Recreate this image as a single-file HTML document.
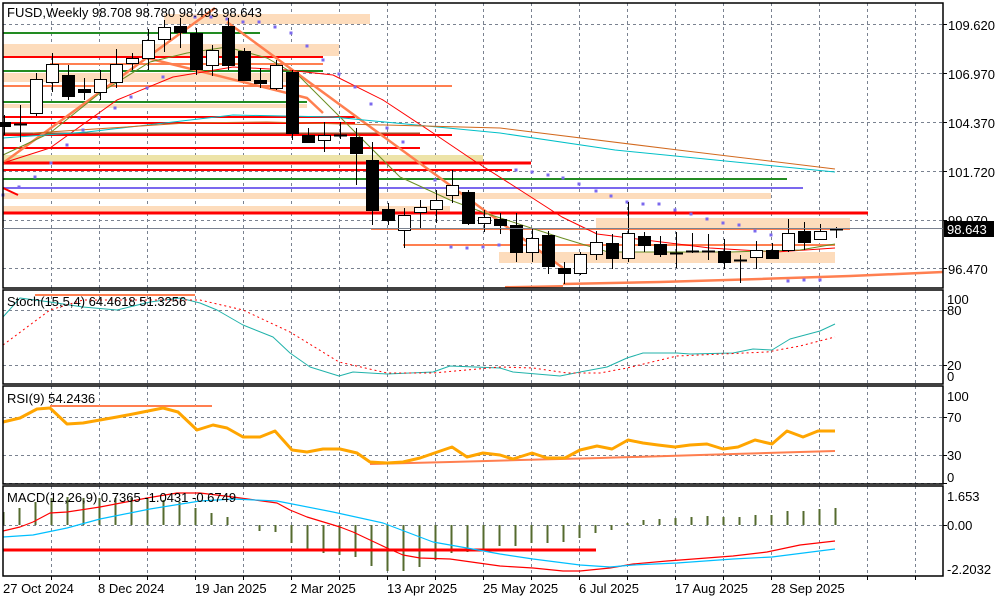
<!DOCTYPE html>
<html><head><meta charset="utf-8"><style>
html,body{margin:0;padding:0;background:#fff;width:1000px;height:600px;overflow:hidden}
svg{display:block}
text{font-family:"Liberation Sans",sans-serif;font-size:13px;fill:#000}
</style></head><body>
<svg id="s" width="1000" height="600" viewBox="0 0 1000 600" xmlns="http://www.w3.org/2000/svg">
<rect width="1000" height="600" fill="#fff"/>
<g id="grid" stroke="#7a8290" stroke-width="1" stroke-dasharray="3,3" fill="none"></g>
<g id="bands"></g>
<g id="lines" fill="none"></g>
<g id="cand"></g>
<g id="ind" fill="none"></g>
<g fill="none" stroke="#000" stroke-width="1.5">
<rect x="3" y="3" width="940" height="285"/>
<rect x="3" y="290" width="940" height="94"/>
<rect x="3" y="386" width="940" height="98"/>
<rect x="3" y="486" width="940" height="90"/>
</g>
<line x1="3" y1="228.5" x2="943" y2="228.5" stroke="#7a8290" stroke-width="1"/>
<rect x="944" y="221" width="50" height="16" fill="#000"/>
<text x="947" y="234" style="fill:#fff">98.643</text>
<g id="ticks" stroke="#000" stroke-width="1"></g>
<text x="7" y="17">FUSD,Weekly  98.708 98.780 98.493 98.643</text>
<text x="948" y="30">109.620</text>
<text x="948" y="79">106.970</text>
<text x="948" y="128">104.370</text>
<text x="948" y="177">101.720</text>
<text x="948" y="225">99.070</text>
<text x="948" y="274">96.470</text>
<text x="7" y="306">Stoch(15,5,4) 64.4618 51.3256</text>
<text x="947" y="304">100</text>
<text x="947" y="315">80</text>
<text x="947" y="370">20</text>
<text x="947" y="381">0</text>
<text x="7" y="403">RSI(9) 54.2436</text>
<text x="947" y="401">100</text>
<text x="947" y="422">70</text>
<text x="947" y="460">30</text>
<text x="947" y="482">0</text>
<text x="7" y="502">MACD(12,26,9) 0.7365 -1.0431 -0.6749</text>
<text x="947" y="501">1.653</text>
<text x="947" y="530">0.00</text>
<text x="947" y="574">-2.2032</text>
<text x="3" y="593">27 Oct 2024</text>
<text x="98" y="593">8 Dec 2024</text>
<text x="195" y="593">19 Jan 2025</text>
<text x="290" y="593">2 Mar 2025</text>
<text x="387" y="593">13 Apr 2025</text>
<text x="483" y="593">25 May 2025</text>
<text x="579" y="593">6 Jul 2025</text>
<text x="675" y="593">17 Aug 2025</text>
<text x="771" y="593">28 Sep 2025</text>
</svg>
<script>
var NS="http://www.w3.org/2000/svg";
function el(p,t,a){var e=document.createElementNS(NS,t);for(var k in a)e.setAttribute(k,a[k]);document.getElementById(p).appendChild(e);return e;}
for(var x=51;x<943;x+=48){[[3,288],[290,384],[386,484],[486,576]].forEach(function(r){el("grid","line",{x1:x+.5,y1:r[0],x2:x+.5,y2:r[1]});});
 el("ticks","line",{x1:x+.5,y1:576,x2:x+.5,y2:580});}
[24.5,73.5,122.5,171.5,220.5,268.5,310.5,365.5,417.5,455.5,483.5,525.5].forEach(function(y){el("grid","line",{x1:3,y1:y,x2:943,y2:y});el("ticks","line",{x1:943,y1:y,x2:947,y2:y});});
var B=[[164,14,206,10,"#fddcbc"],[3,44,336,12,"#fddcbc"],[3,73,297,9,"#fddcbc"],[3,104,304,4,"#fddcbc"],[3,155,480,7,"#ede3a8"],[3,193,768,6,"#fddcbc"],[3,206,447,6,"#fddcbc"],[596,218,254,11,"#fddcbc"],[499,252,336,11,"#fddcbc"]];
B.forEach(function(b){el("bands","rect",{x:b[0],y:b[1],width:b[2],height:b[3],fill:b[4]});});
var H=[[3,260,33,"#228b22",2],[3,323,57,"#ff0000",2],[50,323,64,"#ff7f50",2],[3,323,71,"#228b22",2],[3,452,86,"#ff7f50",2],[3,307,102,"#228b22",2],[3,355,117,"#ff0000",2],[3,355,123,"#ff0000",2],[3,420,134,"#a0522d",3],[3,452,135,"#ff0000",2],[3,420,148,"#ff0000",2],[3,531,163,"#ff0000",3],[3,512,170,"#ff0000",2],[3,787,179,"#228b22",2],[3,803,188,"#7b68ee",2],[3,868,213,"#ff0000",3],[371,850,229,"#ff7f50",2],[403,835,245,"#ff7f50",2]];
H.forEach(function(h){el("lines","line",{x1:h[0],y1:h[2],x2:h[1],y2:h[2],stroke:h[3],"stroke-width":h[4]});});
function pl(g,pts,c,w,extra){var a={points:pts,stroke:c,"stroke-width":w,fill:"none","stroke-linejoin":"round"};if(extra)for(var k in extra)a[k]=extra[k];return el(g,"polyline",a);}
pl("lines","563,284 660,282 760,279 850,276 943,272","#ff7f50",2.5);
pl("lines","505,287 563,286","#ff7f50",2);
pl("lines","3,163 215,8","#ff7f50",2.5);
pl("lines","227,22 563,268","#ff7f50",2.5);
pl("lines","147,58 307,98 323,113","#ff7f50",2.5);
pl("lines","3,188 18,195","#ff0000",2);
pl("lines","3,163 50,148 117,100 173,77 233,67 287,70 333,75 383,100 433,133 473,160 520,190 562,217 597,234 710,248 776,252 835,248","#ff0000",1);
pl("lines","3,155 50,133 100,93 150,62 187,53 227,47 267,58 300,77 350,127 400,177 450,200 485,213 562,238 608,252 730,252 800,250 835,244","#6b8e23",1);
pl("lines","3,138 87,132 233,115 333,117 500,133 615,150 835,172","#00c0c8",1);
pl("lines","33,133 187,123 267,122 500,128 678,150 835,169","#d2691e",1);
var D=[[3,195],[19,187],[35,177],[51,163],[67,145],[83,130],[99,118],[115,108],[131,97],[147,88],[163,77],[195,17],[211,17],[227,19],[243,22],[259,22],[275,27],[291,33],[307,46],[323,60],[339,74],[355,87],[371,104],[387,128],[403,142],[435,180],[451,247],[467,248],[483,247],[499,245],[516,170],[532,172],[548,175],[563,178],[579,184],[596,191],[611,196],[627,202],[643,204],[659,204],[675,210],[691,214],[707,219],[723,223],[739,225],[755,231],[771,235],[788,281],[804,280],[820,280]];
D.forEach(function(d){el("lines","rect",{x:d[0]-1.5,y:d[1]-1.5,width:3,height:3,fill:"#7b68ee"});});
var C=[[122,126,115,135],[124,124,105,142],[113,79,73,116],[82,64,53,92],[75,96,65,100],[89,92,78,100],[92,79,70,100],[82,64,49,88],[63,58,53,70],[58,40,29,70],[39,27,20,52],[26,32,18,48],[33,69,28,75],[65,50,45,76],[26,65,18,70],[51,80,48,80],[80,83,68,88],[88,65,60,90],[72,133,70,140],[135,142,128,142],[140,135,122,152],[135,136,122,139],[137,153,128,185],[160,210,142,225],[209,220,203,225],[230,215,208,248],[212,207,200,229],[209,200,190,223],[195,185,170,203],[192,223,190,225],[223,217,210,232],[219,225,213,234],[225,252,213,262],[252,238,228,262],[235,266,231,274],[268,273,262,284],[273,254,252,275],[254,242,231,260],[243,258,234,269],[258,233,202,262],[236,245,232,252],[244,254,236,257],[253,253,232,268],[251,251,233,253],[251,251,234,260],[251,262,239,269],[260,260,255,283],[257,250,241,269],[250,258,243,259],[250,233,219,252],[231,242,222,250],[239,231,224,240],[229,229,227,238]];
C.forEach(function(c,i){var x=4+16*i;el("cand","line",{x1:x+.5,y1:c[2],x2:x+.5,y2:c[3],stroke:"#000","stroke-width":1});
 var t=Math.min(c[0],c[1]),h=Math.max(1,Math.abs(c[1]-c[0]));
 if(h<=1){el("cand","line",{x1:x-6,y1:t+.5,x2:x+7,y2:t+.5,stroke:"#000","stroke-width":2});}
 else el("cand","rect",{x:x-5.5,y:t+.5,width:12,height:h,fill:c[1]<c[0]?"#fff":"#000",stroke:"#000","stroke-width":1});});
pl("ind","35,295 195,295","#ff7f50",2);
pl("ind","3,317 20,298 50,302 83,307 117,310 150,302 180,298 200,303 217,310 243,325 273,337 290,353 310,367 339,376 353,372 387,374 433,372 450,366 500,368 513,372 560,376 580,372 607,367 627,358 643,353 677,353 690,354 733,353 753,349 772,350 790,339 820,331 835,324","#20b2aa",1);
pl("ind","3,345 50,310 83,300 200,300 243,310 290,332 339,362 387,373 433,373 500,367 533,368 567,373 600,373 627,368 677,356 767,352 800,346 835,337","#ff0000",1,{"stroke-dasharray":"2,3"});
pl("ind","50,406 212,406","#ff7f50",2);
pl("ind","370,464 450,462 520,460 600,458 700,455 800,452 835,451","#ff7f50",2);
pl("ind","3,422 20,418 37,409 50,408 67,424 83,423 100,420 117,417 133,414 163,408 178,412 197,430 213,425 227,428 243,437 260,437 275,431 292,450 307,452 323,449 340,449 357,453 370,462 387,463 403,462 420,458 452,447 467,457 483,453 500,455 513,459 532,453 547,458 565,458 580,450 597,446 612,449 628,440 643,443 658,445 675,447 690,445 707,444 723,449 738,447 755,440 772,444 787,431 803,437 818,431 835,431","#ffa500",3);
var M=[[3,512],[19,508],[35,502],[51,498],[67,497],[83,498],[99,498],[115,498],[131,498],[147,498],[163,500],[179,502],[195,508],[211,513],[227,517],[259,531],[275,532],[291,543],[307,550],[323,553],[339,555],[355,557],[371,566],[387,571],[403,571],[419,567],[435,560],[451,553],[467,552],[483,550],[499,546],[515,546],[531,543],[547,543],[563,542],[579,538],[595,533],[611,530],[627,523],[643,520],[659,519],[675,518],[691,517],[707,516],[723,517],[739,517],[755,515],[771,515],[787,511],[803,511],[819,509],[835,508]];
M.forEach(function(m){el("ind","line",{x1:m[0]+.5,y1:525,x2:m[0]+.5,y2:m[1],stroke:"#556b2f","stroke-width":2});});
pl("ind","3,550 596,550","#ff0000",3);
pl("ind","3,531 20,527 33,522 50,513 67,512 100,507 147,498 177,493 200,493 233,497 277,503 290,510 307,517 340,527 353,532 370,540 387,548 403,555 420,558 450,559 500,566 533,568 563,571 580,571 610,568 633,564 667,561 733,556 767,552 800,545 835,541","#ff0000",1.2);
pl("ind","3,537 33,535 67,528 100,519 150,509 200,501 233,499 277,501 333,512 383,523 433,542 467,548 500,554 533,559 580,565 610,567 633,565 677,563 733,559 772,557 835,549","#00bfff",1.2);
</script>
</body></html>
